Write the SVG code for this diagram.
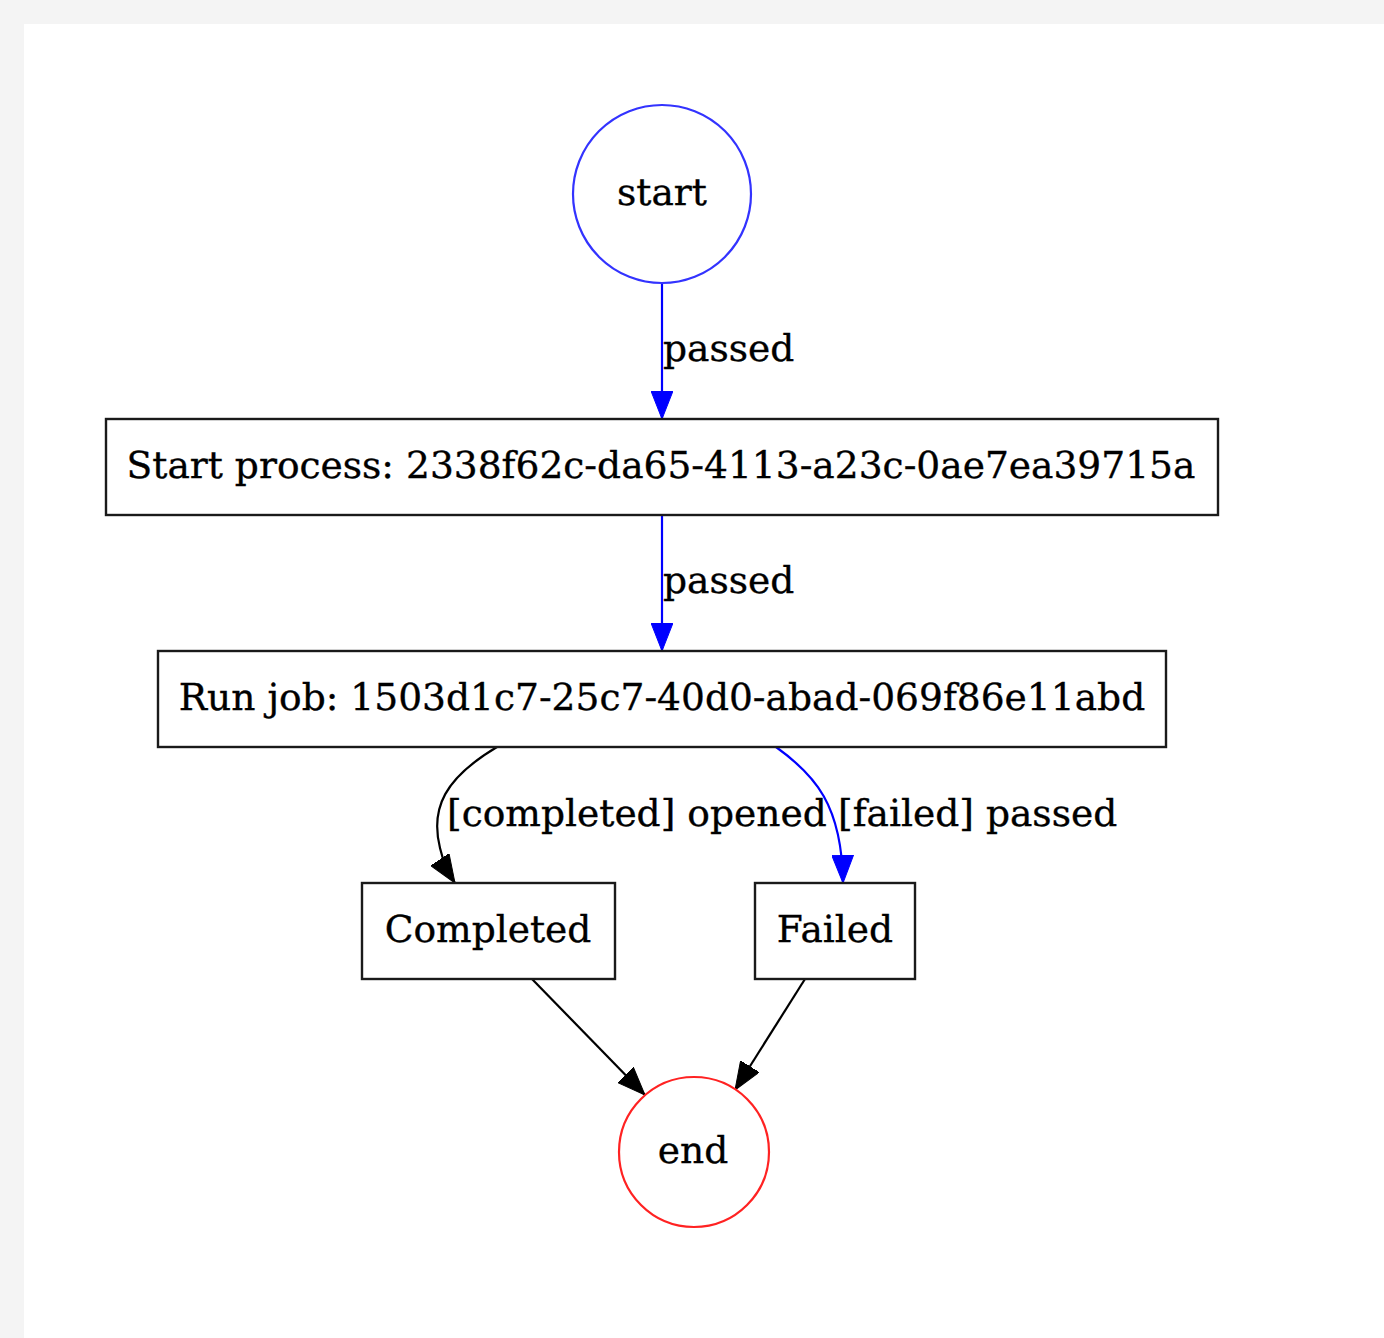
<svg xmlns="http://www.w3.org/2000/svg" width="1384" height="1338" viewBox="0 0 1384 1338">
  <style>
    text { font-family: "DejaVu Serif", "Liberation Serif", serif; font-size: 37.6px; fill: #000; stroke: #000; stroke-width: 0.35px; }
    .c { text-anchor: middle; }
    .box { fill: #fff; stroke: #1a1a1a; stroke-width: 2.4; }
    .edge { fill: none; stroke-width: 2.2; }
    .blue { stroke: #0000ff; }
    .black { stroke: #000; }
  </style>
  <defs>
    <marker id="ah-blue" viewBox="0 0 28 22" refX="28" refY="11" markerWidth="28" markerHeight="22" markerUnits="userSpaceOnUse" orient="auto">
      <path d="M0,0 L28,11 L0,22 Z" fill="#0000ff" stroke="#0000ff" stroke-width="1"/>
    </marker>
    <marker id="ah-black" viewBox="0 0 28 22" refX="28" refY="11" markerWidth="28" markerHeight="22" markerUnits="userSpaceOnUse" orient="auto">
      <path d="M0,0 L28,11 L0,22 Z" fill="#000" stroke="#000" stroke-width="1"/>
    </marker>
  </defs>

  <!-- page -->
  <rect x="0" y="0" width="1384" height="1338" fill="#f4f4f4"/>
  <rect x="24" y="24" width="1360" height="1314" fill="#fff"/>

  <!-- connectors -->
  <g id="edges">
    <path class="edge blue" d="M662,284 L662,419" marker-end="url(#ah-blue)"/>
    <text x="663" y="361">passed</text>
    <path class="edge blue" d="M662,516 L662,651" marker-end="url(#ah-blue)"/>
    <text x="663" y="593">passed</text>
    <path class="edge black" d="M497,747 C445,778 430,808 440,848 Q444,866 455,883" marker-end="url(#ah-black)"/>
    <text x="447" y="826">[completed] opened</text>
    <path class="edge blue" d="M776,747 C815,775 842,805 843,883" marker-end="url(#ah-blue)"/>
    <text x="838" y="826">[failed] passed</text>
    <path class="edge black" d="M532,979 L645,1095" marker-end="url(#ah-black)"/>
    <path class="edge black" d="M805,979 L735,1090" marker-end="url(#ah-black)"/>
  </g>

  <g id="start">
    <circle cx="662" cy="194" r="89" fill="#fff" stroke="#3333ff" stroke-width="2.2"/>
    <text class="c" x="662" y="205">start</text>
  </g>

  <g id="start-process">
    <rect class="box" x="106" y="419" width="1112" height="96"/>
    <text class="c" x="661" y="478">Start process: 2338f62c-da65-4113-a23c-0ae7ea39715a</text>
  </g>

  <g id="run-job">
    <rect class="box" x="158" y="651" width="1008" height="96"/>
    <text class="c" x="662" y="710">Run job: 1503d1c7-25c7-40d0-abad-069f86e11abd</text>
  </g>

  <g id="completed">
    <rect class="box" x="362" y="883" width="253" height="96"/>
    <text class="c" x="488" y="942">Completed</text>
  </g>

  <g id="failed">
    <rect class="box" x="755" y="883" width="160" height="96"/>
    <text class="c" x="835" y="942">Failed</text>
  </g>

  <g id="end">
    <circle cx="694" cy="1152" r="75" fill="#fff" stroke="#ff2222" stroke-width="2.2"/>
    <text class="c" x="693" y="1163">end</text>
  </g>
</svg>
